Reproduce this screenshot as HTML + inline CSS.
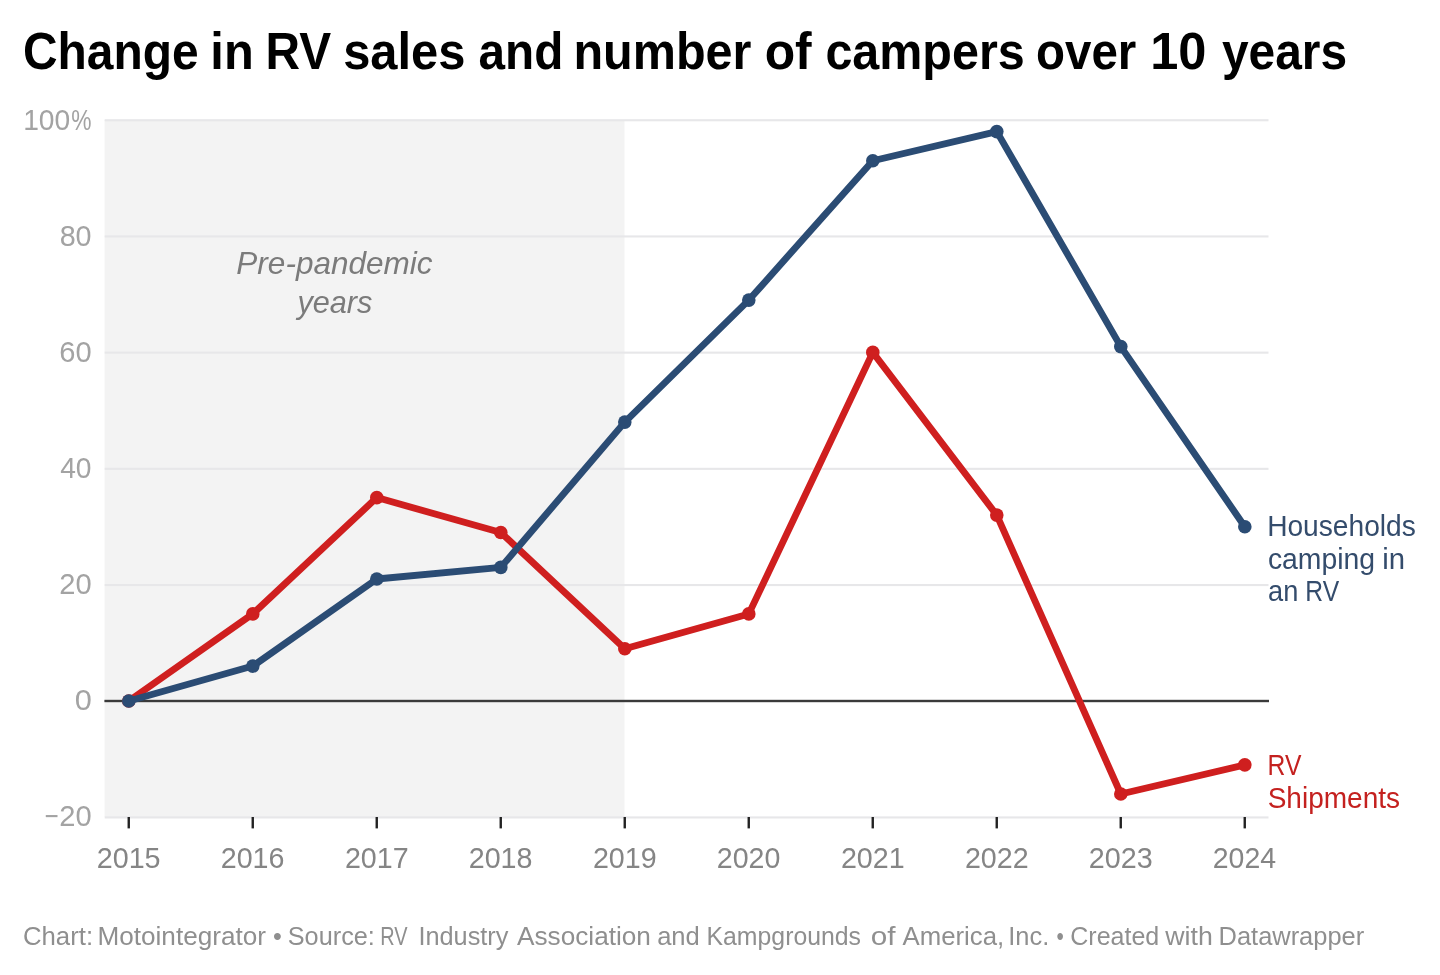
<!DOCTYPE html>
<html><head><meta charset="utf-8"><title>Change in RV sales and number of campers over 10 years</title>
<style>
html,body{margin:0;padding:0;background:#fff;}
body{width:1440px;height:975px;overflow:hidden;font-family:"Liberation Sans",sans-serif;}
svg{display:block;will-change:transform;filter:blur(0.45px);}
text{font-family:"Liberation Sans",sans-serif;}
</style></head><body>
<svg width="1440" height="975" viewBox="0 0 1440 975">

<rect x="104.6" y="120" width="519.9" height="697.2" fill="#f3f3f3"/>
<rect x="104.7" y="119.20" width="1163.8" height="2.1" fill="#e7e7e9"/><rect x="104.7" y="235.40" width="1163.8" height="2.1" fill="#e7e7e9"/><rect x="104.7" y="351.60" width="1163.8" height="2.1" fill="#e7e7e9"/><rect x="104.7" y="467.80" width="1163.8" height="2.1" fill="#e7e7e9"/><rect x="104.7" y="584.00" width="1163.8" height="2.1" fill="#e7e7e9"/><rect x="104.7" y="816.40" width="1163.8" height="2.1" fill="#e7e7e9"/>
<rect x="104.4" y="699.8" width="1164.6" height="2.4" fill="#3a3a3a"/>
<rect x="127.55" y="817" width="2.4" height="11.4" fill="#222"/><rect x="251.55" y="817" width="2.4" height="11.4" fill="#222"/><rect x="375.55" y="817" width="2.4" height="11.4" fill="#222"/><rect x="499.55" y="817" width="2.4" height="11.4" fill="#222"/><rect x="623.55" y="817" width="2.4" height="11.4" fill="#222"/><rect x="747.55" y="817" width="2.4" height="11.4" fill="#222"/><rect x="871.55" y="817" width="2.4" height="11.4" fill="#222"/><rect x="995.55" y="817" width="2.4" height="11.4" fill="#222"/><rect x="1119.55" y="817" width="2.4" height="11.4" fill="#222"/><rect x="1243.55" y="817" width="2.4" height="11.4" fill="#222"/>
<path d="M128.8,701.0 L252.8,613.9 L376.8,497.6 L500.8,532.5 L624.8,648.7 L748.8,613.9 L872.8,352.4 L996.8,515.1 L1120.8,794.0 L1244.8,764.9" fill="none" stroke="#cf1f1f" stroke-width="6.8" stroke-linejoin="round" stroke-linecap="round"/>
<circle cx="128.8" cy="701.0" r="6.8" fill="#cf1f1f"/><circle cx="252.8" cy="613.9" r="6.8" fill="#cf1f1f"/><circle cx="376.8" cy="497.6" r="6.8" fill="#cf1f1f"/><circle cx="500.8" cy="532.5" r="6.8" fill="#cf1f1f"/><circle cx="624.8" cy="648.7" r="6.8" fill="#cf1f1f"/><circle cx="748.8" cy="613.9" r="6.8" fill="#cf1f1f"/><circle cx="872.8" cy="352.4" r="6.8" fill="#cf1f1f"/><circle cx="996.8" cy="515.1" r="6.8" fill="#cf1f1f"/><circle cx="1120.8" cy="794.0" r="6.8" fill="#cf1f1f"/><circle cx="1244.8" cy="764.9" r="6.8" fill="#cf1f1f"/>
<path d="M128.8,701.0 L252.8,666.1 L376.8,579.0 L500.8,567.4 L624.8,422.1 L748.8,300.1 L872.8,160.7 L996.8,131.6 L1120.8,346.6 L1244.8,526.7" fill="none" stroke="#2b4c74" stroke-width="6.8" stroke-linejoin="round" stroke-linecap="round"/>
<circle cx="128.8" cy="701.0" r="6.8" fill="#2b4c74"/><circle cx="252.8" cy="666.1" r="6.8" fill="#2b4c74"/><circle cx="376.8" cy="579.0" r="6.8" fill="#2b4c74"/><circle cx="500.8" cy="567.4" r="6.8" fill="#2b4c74"/><circle cx="624.8" cy="422.1" r="6.8" fill="#2b4c74"/><circle cx="748.8" cy="300.1" r="6.8" fill="#2b4c74"/><circle cx="872.8" cy="160.7" r="6.8" fill="#2b4c74"/><circle cx="996.8" cy="131.6" r="6.8" fill="#2b4c74"/><circle cx="1120.8" cy="346.6" r="6.8" fill="#2b4c74"/><circle cx="1244.8" cy="526.7" r="6.8" fill="#2b4c74"/>
<text x="22.96" y="69.30" font-size="52.5" font-weight="bold" fill="#000" textLength="175.59" lengthAdjust="spacingAndGlyphs">Change</text>
<text x="210.36" y="69.30" font-size="52.5" font-weight="bold" fill="#000" textLength="43.35" lengthAdjust="spacingAndGlyphs">in</text>
<text x="265.53" y="69.30" font-size="52.5" font-weight="bold" fill="#000" textLength="65.59" lengthAdjust="spacingAndGlyphs">RV</text>
<text x="343.13" y="69.30" font-size="52.5" font-weight="bold" fill="#000" textLength="122.32" lengthAdjust="spacingAndGlyphs">sales</text>
<text x="478.52" y="69.30" font-size="52.5" font-weight="bold" fill="#000" textLength="84.82" lengthAdjust="spacingAndGlyphs">and</text>
<text x="573.47" y="69.30" font-size="52.5" font-weight="bold" fill="#000" textLength="177.98" lengthAdjust="spacingAndGlyphs">number</text>
<text x="764.64" y="69.30" font-size="52.5" font-weight="bold" fill="#000" textLength="47.04" lengthAdjust="spacingAndGlyphs">of</text>
<text x="825.38" y="69.30" font-size="52.5" font-weight="bold" fill="#000" textLength="199.32" lengthAdjust="spacingAndGlyphs">campers</text>
<text x="1035.99" y="69.30" font-size="52.5" font-weight="bold" fill="#000" textLength="100.34" lengthAdjust="spacingAndGlyphs">over</text>
<text x="1150.25" y="69.30" font-size="52.5" font-weight="bold" fill="#000" textLength="56.25" lengthAdjust="spacingAndGlyphs">10</text>
<text x="1221.90" y="69.30" font-size="52.5" font-weight="bold" fill="#000" textLength="125.14" lengthAdjust="spacingAndGlyphs">years</text>
<text x="71.23" y="130.10" font-size="29.5"  fill="#a3a3a3" textLength="20.26" lengthAdjust="spacingAndGlyphs">%</text>
<text x="44.52" y="826.10" font-size="29.5"  fill="#a3a3a3" textLength="14.06" lengthAdjust="spacingAndGlyphs">−</text>
<text x="23.13" y="130.10" font-size="29.5"  fill="#a3a3a3" textLength="47.08" lengthAdjust="spacingAndGlyphs">100</text>
<text x="59.63" y="246.20" font-size="29.5"  fill="#a3a3a3" textLength="32.00" lengthAdjust="spacingAndGlyphs">80</text>
<text x="59.35" y="361.90" font-size="29.5"  fill="#a3a3a3" textLength="32.37" lengthAdjust="spacingAndGlyphs">60</text>
<text x="60.20" y="478.00" font-size="29.5"  fill="#a3a3a3" textLength="31.38" lengthAdjust="spacingAndGlyphs">40</text>
<text x="59.31" y="594.30" font-size="29.5"  fill="#a3a3a3" textLength="32.40" lengthAdjust="spacingAndGlyphs">20</text>
<text x="74.65" y="710.45" font-size="29.5"  fill="#a3a3a3" textLength="17.09" lengthAdjust="spacingAndGlyphs">0</text>
<text x="59.31" y="826.10" font-size="29.5"  fill="#a3a3a3" textLength="32.40" lengthAdjust="spacingAndGlyphs">20</text>
<text x="96.73" y="868.40" font-size="29.5"  fill="#858585" textLength="63.84" lengthAdjust="spacingAndGlyphs">2015</text>
<text x="220.71" y="868.40" font-size="29.5"  fill="#858585" textLength="63.81" lengthAdjust="spacingAndGlyphs">2016</text>
<text x="344.90" y="868.40" font-size="29.5"  fill="#858585" textLength="63.73" lengthAdjust="spacingAndGlyphs">2017</text>
<text x="468.71" y="868.40" font-size="29.5"  fill="#858585" textLength="63.81" lengthAdjust="spacingAndGlyphs">2018</text>
<text x="592.92" y="868.40" font-size="29.5"  fill="#858585" textLength="63.72" lengthAdjust="spacingAndGlyphs">2019</text>
<text x="716.76" y="868.40" font-size="29.5"  fill="#858585" textLength="63.56" lengthAdjust="spacingAndGlyphs">2020</text>
<text x="840.90" y="868.40" font-size="29.5"  fill="#858585" textLength="63.79" lengthAdjust="spacingAndGlyphs">2021</text>
<text x="964.90" y="868.40" font-size="29.5"  fill="#858585" textLength="63.73" lengthAdjust="spacingAndGlyphs">2022</text>
<text x="1088.73" y="868.40" font-size="29.5"  fill="#858585" textLength="63.91" lengthAdjust="spacingAndGlyphs">2023</text>
<text x="1212.77" y="868.40" font-size="29.5"  fill="#858585" textLength="63.31" lengthAdjust="spacingAndGlyphs">2024</text>
<text x="236.33" y="273.70" font-size="32.2" font-style="italic" fill="#7b7b7b" textLength="196.27" lengthAdjust="spacingAndGlyphs">Pre-pandemic</text>
<text x="297.38" y="312.80" font-size="32.2" font-style="italic" fill="#7b7b7b" textLength="75.01" lengthAdjust="spacingAndGlyphs">years</text>
<text x="1267.13" y="536.20" font-size="29.2"  fill="#344c6c" textLength="148.72" lengthAdjust="spacingAndGlyphs">Households</text>
<text x="1267.92" y="568.60" font-size="29.2"  fill="#344c6c" textLength="107.22" lengthAdjust="spacingAndGlyphs">camping</text>
<text x="1382.21" y="568.60" font-size="29.2"  fill="#344c6c" textLength="22.80" lengthAdjust="spacingAndGlyphs">in</text>
<text x="1268.12" y="601.10" font-size="29.2"  fill="#344c6c" textLength="30.27" lengthAdjust="spacingAndGlyphs">an</text>
<text x="1305.36" y="601.10" font-size="29.2"  fill="#344c6c" textLength="33.81" lengthAdjust="spacingAndGlyphs">RV</text>
<text x="1267.59" y="775.20" font-size="29.2"  fill="#c4211f" textLength="33.87" lengthAdjust="spacingAndGlyphs">RV</text>
<text x="1267.68" y="807.50" font-size="29.2"  fill="#c4211f" textLength="132.36" lengthAdjust="spacingAndGlyphs">Shipments</text>
<text x="22.94" y="944.60" font-size="26.3"  fill="#8f8f8f" textLength="70.12" lengthAdjust="spacingAndGlyphs">Chart:</text>
<text x="97.38" y="944.60" font-size="26.3"  fill="#8f8f8f" textLength="168.65" lengthAdjust="spacingAndGlyphs">Motointegrator</text>
<text x="273.08" y="944.60" font-size="26.3"  fill="#8f8f8f" textLength="8.83" lengthAdjust="spacingAndGlyphs">•</text>
<text x="287.78" y="944.60" font-size="26.3"  fill="#8f8f8f" textLength="87.09" lengthAdjust="spacingAndGlyphs">Source:</text>
<text x="380.16" y="944.60" font-size="26.3"  fill="#8f8f8f" textLength="27.34" lengthAdjust="spacingAndGlyphs">RV</text>
<text x="418.43" y="944.60" font-size="26.3"  fill="#8f8f8f" textLength="90.01" lengthAdjust="spacingAndGlyphs">Industry</text>
<text x="517.00" y="944.60" font-size="26.3"  fill="#8f8f8f" textLength="133.94" lengthAdjust="spacingAndGlyphs">Association</text>
<text x="657.13" y="944.60" font-size="26.3"  fill="#8f8f8f" textLength="42.67" lengthAdjust="spacingAndGlyphs">and</text>
<text x="706.53" y="944.60" font-size="26.3"  fill="#8f8f8f" textLength="154.48" lengthAdjust="spacingAndGlyphs">Kampgrounds</text>
<text x="870.68" y="944.60" font-size="26.3"  fill="#8f8f8f" textLength="24.78" lengthAdjust="spacingAndGlyphs">of</text>
<text x="902.51" y="944.60" font-size="26.3"  fill="#8f8f8f" textLength="101.61" lengthAdjust="spacingAndGlyphs">America,</text>
<text x="1008.27" y="944.60" font-size="26.3"  fill="#8f8f8f" textLength="40.97" lengthAdjust="spacingAndGlyphs">Inc.</text>
<text x="1056.47" y="944.60" font-size="26.3"  fill="#8f8f8f" textLength="7.29" lengthAdjust="spacingAndGlyphs">•</text>
<text x="1070.26" y="944.60" font-size="26.3"  fill="#8f8f8f" textLength="89.01" lengthAdjust="spacingAndGlyphs">Created</text>
<text x="1165.30" y="944.60" font-size="26.3"  fill="#8f8f8f" textLength="47.51" lengthAdjust="spacingAndGlyphs">with</text>
<text x="1218.56" y="944.60" font-size="26.3"  fill="#8f8f8f" textLength="145.64" lengthAdjust="spacingAndGlyphs">Datawrapper</text>
</svg>
</body></html>
